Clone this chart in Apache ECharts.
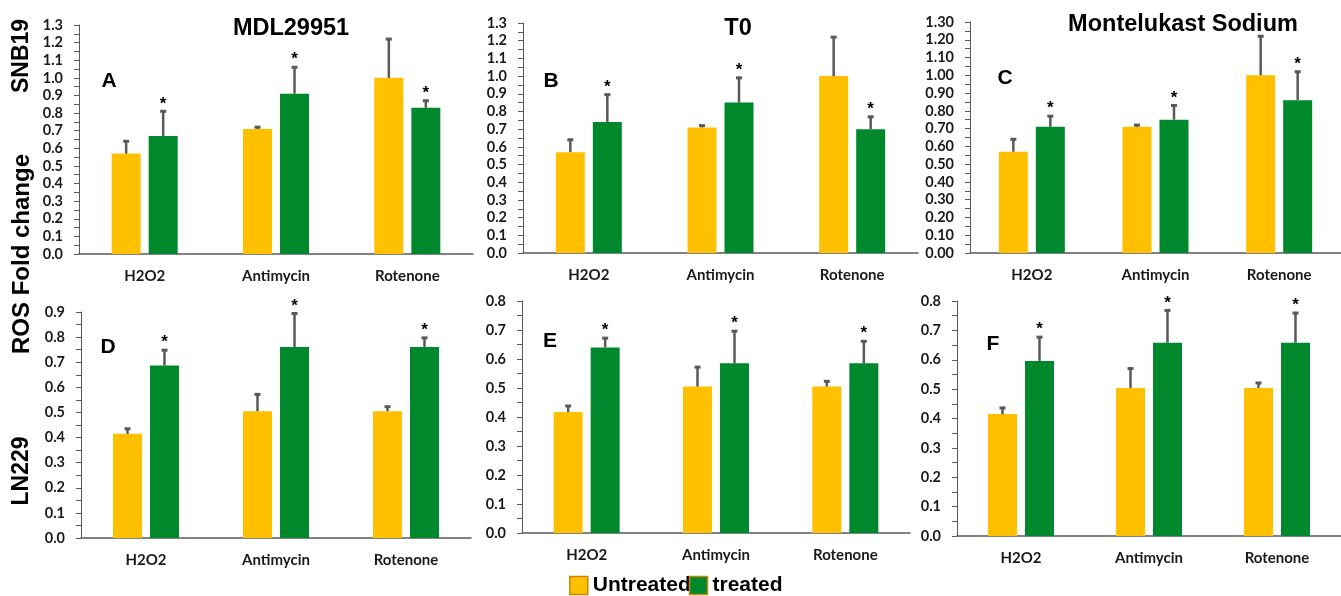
<!DOCTYPE html>
<html><head><meta charset="utf-8">
<script src="https://cdn.jsdelivr.net/npm/echarts@6/dist/echarts.min.js"></script>
<style>html,body{margin:0;padding:0;background:#fff}#c{width:1341px;height:596px}</style>
</head><body><div id="c"></div><script>
// ---------- data ----------
const categories = ['H2O2', 'Antimycin', 'Rotenone'];
const seriesNames = ['Untreated', 'treated'];
const panelLetters = ['A', 'B', 'C', 'D', 'E', 'F'];
const drugTitles = ['MDL29951', 'T0', 'Montelukast Sodium'];
const cellLines = ['SNB19', 'LN229'];
const yAxisTitle = 'ROS Fold change';

const A_untreated = [0.57, 0.71, 1.00];
const A_untreated_err = [0.07, 0.01, 0.22];
const A_treated = [0.67, 0.91, 0.83];
const A_treated_err = [0.14, 0.15, 0.04];

const B_untreated = [0.57, 0.71, 1.00];
const B_untreated_err = [0.07, 0.01, 0.22];
const B_treated = [0.74, 0.85, 0.70];
const B_treated_err = [0.155, 0.14, 0.07];

const C_untreated = [0.57, 0.71, 1.00];
const C_untreated_err = [0.07, 0.01, 0.22];
const C_treated = [0.71, 0.75, 0.86];
const C_treated_err = [0.06, 0.08, 0.16];

const D_untreated = [0.415, 0.505, 0.505];
const D_untreated_err = [0.02, 0.067, 0.018];
const D_treated = [0.687, 0.761, 0.761];
const D_treated_err = [0.061, 0.133, 0.036];

const E_untreated = [0.417, 0.505, 0.505];
const E_untreated_err = [0.021, 0.067, 0.018];
const E_treated = [0.64, 0.585, 0.585];
const E_treated_err = [0.032, 0.111, 0.076];

const F_untreated = [0.415, 0.504, 0.504];
const F_untreated_err = [0.021, 0.066, 0.017];
const F_treated = [0.596, 0.658, 0.658];
const F_treated_err = [0.081, 0.11, 0.101];

const treatedSignificant = [1, 1, 1];   // asterisk markers on treated bars

const yMax = [1.3, 1.3, 1.3, 0.9, 0.8, 0.8];
const yStep = 0.1;
const yDecimals = [1, 1, 2, 1, 1, 1];

// ---------- layout / style ----------
const panels = [
  { u: A_untreated, ue: A_untreated_err, t: A_treated, te: A_treated_err, grid: { left: 79, top: 25, width: 394, height: 229 }, letter: [109, 81] },
  { u: B_untreated, ue: B_untreated_err, t: B_treated, te: B_treated_err, grid: { left: 523, top: 23, width: 395, height: 230 }, letter: [551, 81] },
  { u: C_untreated, ue: C_untreated_err, t: C_treated, te: C_treated_err, grid: { left: 970, top: 22, width: 382, height: 231 }, letter: [1005, 78] },
  { u: D_untreated, ue: D_untreated_err, t: D_treated, te: D_treated_err, grid: { left: 81, top: 312, width: 390, height: 226 }, letter: [108, 347] },
  { u: E_untreated, ue: E_untreated_err, t: E_treated, te: E_treated_err, grid: { left: 522, top: 301, width: 388, height: 232 }, letter: [550, 341] },
  { u: F_untreated, ue: F_untreated_err, t: F_treated, te: F_treated_err, grid: { left: 957, top: 301, width: 390, height: 235 }, letter: [993, 344] }
];

const YELLOW = '#FFC000';
const GREEN = '#00892C';
const GRAY = '#595959';
const BAR_W = 29;
const BAR_GAP = 8;
const OFF = (BAR_W + BAR_GAP) / 2;
const labelFont = 'Lato';

function errRender(offset, withStar) {
  return function (params, api) {
    const base = api.coord([api.value(0), api.value(1)]);
    const top = api.coord([api.value(0), api.value(1) + api.value(2)]);
    const cx = base[0] + offset;
    const children = [
      { type: 'line', shape: { x1: cx, y1: base[1], x2: cx, y2: top[1] }, style: { stroke: GRAY, lineWidth: 2.5 } },
      { type: 'line', shape: { x1: cx - 3, y1: top[1], x2: cx + 3, y2: top[1] }, style: { stroke: GRAY, lineWidth: 3 } }
    ];
    if (withStar && api.value(3)) {
      children.push({ type: 'text', x: cx, y: top[1] + 1, style: { text: '*', font: 'bold 17px "Liberation Sans"', align: 'center', verticalAlign: 'bottom', fill: '#000' } });
    }
    return { type: 'group', children: children };
  };
}

const grids = [], xAxes = [], yAxes = [], series = [];
panels.forEach(function (p, i) {
  grids.push(Object.assign({ containLabel: false }, p.grid));
  xAxes.push({
    type: 'category', gridIndex: i, data: categories,
    axisTick: { show: false },
    axisLine: { lineStyle: { color: GRAY, width: 1.5 } },
    axisLabel: { color: '#1a1a1a', fontFamily: labelFont, fontWeight: 'bold', fontSize: 15, margin: 15 }
  });
  const dec = yDecimals[i];
  yAxes.push({
    type: 'value', gridIndex: i, min: 0, max: yMax[i], interval: yStep,
    splitLine: { show: false },
    axisLine: { show: true, lineStyle: { color: GRAY, width: 1 } },
    axisTick: { show: true, length: 5, lineStyle: { color: GRAY } },
    minorTick: { show: true, splitNumber: 2, length: 5, lineStyle: { color: GRAY } },
    axisLabel: { color: '#1a1a1a', fontFamily: labelFont, fontWeight: 'bold', fontSize: 14.5, margin: 16,
      formatter: function (v) { return v.toFixed(dec); } }
  });
  series.push({ name: seriesNames[0], type: 'bar', xAxisIndex: i, yAxisIndex: i, data: p.u, barWidth: BAR_W, barGap: (BAR_GAP / BAR_W * 100) + '%', itemStyle: { color: YELLOW }, silent: true });
  series.push({ name: seriesNames[1], type: 'bar', xAxisIndex: i, yAxisIndex: i, data: p.t, barWidth: BAR_W, barGap: (BAR_GAP / BAR_W * 100) + '%', itemStyle: { color: GREEN }, silent: true });
  series.push({ name: 'errU' + i, type: 'custom', xAxisIndex: i, yAxisIndex: i, silent: true, z: 5,
    renderItem: errRender(-OFF, false), encode: { x: 0, y: 1 },
    data: p.u.map(function (v, k) { return [k, v, p.ue[k], 0]; }) });
  series.push({ name: 'errT' + i, type: 'custom', xAxisIndex: i, yAxisIndex: i, silent: true, z: 5,
    renderItem: errRender(OFF, true), encode: { x: 0, y: 1 },
    data: p.t.map(function (v, k) { return [k, v, p.te[k], treatedSignificant[k]]; }) });
});

const graphics = [];
const titlePos = [[291, 29], [738, 29], [1183, 25]];
drugTitles.forEach(function (t, i) {
  graphics.push({ type: 'text', x: titlePos[i][0], y: titlePos[i][1], style: { text: t, font: 'bold 23.5px "Liberation Sans"', align: 'center', verticalAlign: 'middle', fill: '#000' } });
});
panels.forEach(function (p, i) {
  graphics.push({ type: 'text', x: p.letter[0], y: p.letter[1], style: { text: panelLetters[i], font: 'bold 21px "Liberation Sans"', align: 'center', verticalAlign: 'middle', fill: '#000' } });
});
const sidePos = [[22, 56], [22, 471]];
cellLines.forEach(function (t, i) {
  graphics.push({ type: 'text', x: sidePos[i][0], y: sidePos[i][1], rotation: Math.PI / 2, style: { text: t, font: 'bold 23px "Liberation Sans"', align: 'center', verticalAlign: 'middle', fill: '#000' } });
});
graphics.push({ type: 'text', x: 22, y: 254, rotation: Math.PI / 2, style: { text: yAxisTitle, font: 'bold 24px "Liberation Sans"', align: 'center', verticalAlign: 'middle', fill: '#000' } });

const chart = echarts.init(document.getElementById('c'), null, { renderer: 'canvas' });
chart.setOption({
  animation: false,
  backgroundColor: '#fff',
  grid: grids,
  xAxis: xAxes,
  yAxis: yAxes,
  legend: {
    left: 564, top: 570, itemWidth: 18, itemHeight: 18, itemGap: -2, selectedMode: false,
    icon: 'rect',
    data: [
      { name: seriesNames[0], itemStyle: { color: YELLOW, borderColor: '#C8860A', borderWidth: 1.5 } },
      { name: seriesNames[1], itemStyle: { color: GREEN, borderColor: '#C8860A', borderWidth: 1.5 } }
    ],
    textStyle: { fontFamily: 'Liberation Sans', fontWeight: 'bold', fontSize: 21, color: '#000' }
  },
  graphic: graphics,
  series: series
});
</script></body></html>
